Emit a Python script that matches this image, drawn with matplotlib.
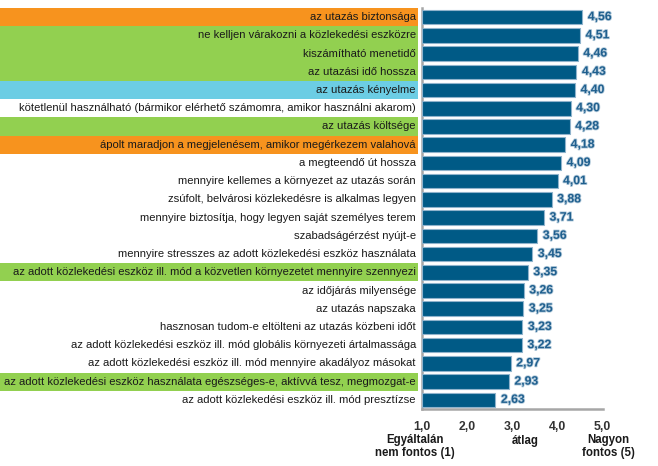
import matplotlib
matplotlib.use("Agg")
import matplotlib.pyplot as plt
from matplotlib.patches import Rectangle
import matplotlib.patheffects as pe

labels = [
    "az utazás biztonsága",
    "ne kelljen várakozni a közlekedési eszközre",
    "kiszámítható menetidő",
    "az utazási idő hossza",
    "az utazás kényelme",
    "kötetlenül használható (bármikor elérhető számomra, amikor használni akarom)",
    "az utazás költsége",
    "ápolt maradjon a megjelenésem, amikor megérkezem valahová",
    "a megteendő út hossza",
    "mennyire kellemes a környezet az utazás során",
    "zsúfolt, belvárosi közlekedésre is alkalmas legyen",
    "mennyire biztosítja, hogy legyen saját személyes terem",
    "szabadságérzést nyújt-e",
    "mennyire stresszes az adott közlekedési eszköz használata",
    "az adott közlekedési eszköz ill. mód a közvetlen környezetet mennyire szennyezi",
    "az időjárás milyensége",
    "az utazás napszaka",
    "hasznosan tudom-e eltölteni az utazás közbeni időt",
    "az adott közlekedési eszköz ill. mód globális környezeti ártalmassága",
    "az adott közlekedési eszköz ill. mód mennyire akadályoz másokat",
    "az adott közlekedési eszköz használata egészséges-e, aktívvá tesz, megmozgat-e",
    "az adott közlekedési eszköz ill. mód presztízse",
]
values = [4.56, 4.51, 4.46, 4.43, 4.40, 4.30, 4.28, 4.18, 4.09, 4.01, 3.88, 3.71,
          3.56, 3.45, 3.35, 3.26, 3.25, 3.23, 3.22, 2.97, 2.93, 2.63]
groups = ["o", "g", "g", "g", "b", "w", "g", "o", "w", "w", "w", "w",
          "w", "w", "g", "w", "w", "w", "w", "w", "g", "w"]
xticks = [1, 2, 3, 4, 5]
xtick_labels = ["1,0", "2,0", "3,0", "4,0", "5,0"]

band_colors = {"o": "#F7931E", "g": "#92D050", "b": "#6CCDE4", "w": None}

W, H = 658, 466
fig = plt.figure(figsize=(W / 100, H / 100), dpi=100)
plt.rcParams["font.family"] = ["Liberation Sans", "DejaVu Sans"]

ax_l, ax_r, ax_t, ax_b = 422, 603, 8, 409
ax = fig.add_axes([ax_l / W, 1 - ax_b / H, (ax_r - ax_l) / W, (ax_b - ax_t) / H])

n = len(labels)
ys = list(range(n))
ax.barh(ys, [v - 1 for v in values], left=1, height=0.8, color="#005A86",
        edgecolor="#8FB3CC", linewidth=0.8, zorder=3)
ax.set_xlim(1, 5.02)
ax.set_ylim(n - 0.5, -0.5)

trans = ax.get_yaxis_transform()
px = 1.0 / (ax_r - ax_l)
for i, (lab, g) in enumerate(zip(labels, groups)):
    c = band_colors[g]
    if c:
        ax.add_patch(Rectangle((-ax_l * px, i - 0.5), 418 * px, 1.0,
                               transform=trans, color=c, clip_on=False, zorder=1, linewidth=0))
    ax.text(-6 * px, i, lab, transform=trans, ha="right", va="center",
            fontsize=8.1, color="#1a1a1a", zorder=4)

for i, v in enumerate(values):
    ax.annotate(f"{v:.2f}".replace(".", ","), (v, i), xytext=(4, 0),
                textcoords="offset points", ha="left", va="center",
                fontsize=8.8, fontweight="bold", color="#1F5F8E",
                path_effects=[pe.withStroke(linewidth=1.2, foreground="#B5CCDC")])

for s in ["top", "right"]:
    ax.spines[s].set_visible(False)
ax.spines["left"].set_color("#A6A6A6")
ax.spines["left"].set_linewidth(1.8)
ax.spines["bottom"].set_color("#A6A6A6")
ax.spines["bottom"].set_linewidth(1.8)
ax.set_yticks([])
ax.set_xticks(xticks)
ax.set_xticklabels(xtick_labels, fontsize=8.8, fontweight="bold", color="#333333")
ax.tick_params(axis="x", length=0, pad=9)

fig.text(415 / W, 1 - 446.5 / H, "Egyáltalán\nnem fontos (1)", ha="center", va="center",
         fontsize=8.3, fontweight="bold", color="#1a1a1a", linespacing=1.15)
fig.text(525 / W, 1 - 441 / H, "átlag", ha="center", va="center",
         fontsize=8.3, fontweight="bold", color="#1a1a1a")
fig.text(608 / W, 1 - 446.5 / H, "Nagyon\nfontos (5)", ha="center", va="center",
         fontsize=8.3, fontweight="bold", color="#1a1a1a", linespacing=1.15)

fig.savefig("out.png", dpi=100)
